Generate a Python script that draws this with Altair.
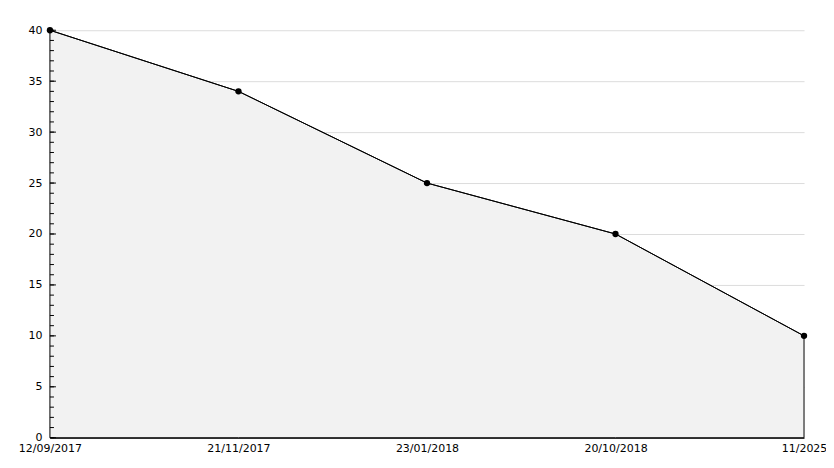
import altair as alt
import pandas as pd

dates = ["12/09/2017", "21/11/2017", "23/01/2018", "20/10/2018", "11/2025"]
values = [40, 34, 25, 20, 10]
minor_ticks = list(range(0, 41))
major_ticks = [0, 5, 10, 15, 20, 25, 30, 35, 40]

df = pd.DataFrame({"date": dates, "value": values})
ticks_df = pd.DataFrame({"value": minor_ticks})
major_df = pd.DataFrame({"value": major_ticks})

x = alt.X("date:N", sort=dates, scale=alt.Scale(type="point", padding=0),
          axis=alt.Axis(title=None, labelAngle=0, ticks=False, domainColor="black",
                        labelFont="DejaVu Sans", labelFontSize=11, labelColor="black",
                        labelPadding=5, grid=False))
y_scale = alt.Scale(domain=[0, 40], nice=False)
y = alt.Y("value:Q", scale=y_scale,
          axis=alt.Axis(title=None, values=major_ticks, ticks=False, domainColor="black",
                        labelFont="DejaVu Sans", labelFontSize=11, labelColor="black",
                        labelPadding=8, grid=True, gridColor="#dcdcdc"))

area = alt.Chart(df).mark_area(color="#f2f2f2", stroke="black", strokeWidth=1, opacity=1).encode(x=x, y=y)
line = alt.Chart(df).mark_line(color="black", strokeWidth=1).encode(x=x, y=y)
pts = alt.Chart(df).mark_point(filled=True, color="black", size=40, shape="circle", opacity=1).encode(x=x, y=y)

minor = alt.Chart(ticks_df).mark_rule(color="black", strokeWidth=1).encode(
    y=y, x=alt.value(0), x2=alt.value(4))
major = alt.Chart(major_df).mark_rule(color="black", strokeWidth=1).encode(
    y=y, x=alt.value(0), x2=alt.value(6))

chart = alt.layer(area, line, minor, major, pts).properties(
    width=755, height=408,
    autosize=alt.AutoSizeParams(type="none"),
    padding={"left": 42, "top": 22, "right": 22, "bottom": 16},
    view=alt.ViewBackground(stroke="transparent", strokeWidth=0),
).configure_view(strokeWidth=0, stroke="transparent").configure_axisX(grid=False).configure(background="white")

chart.save("out.html", embed_options={"renderer": "svg", "actions": False})
